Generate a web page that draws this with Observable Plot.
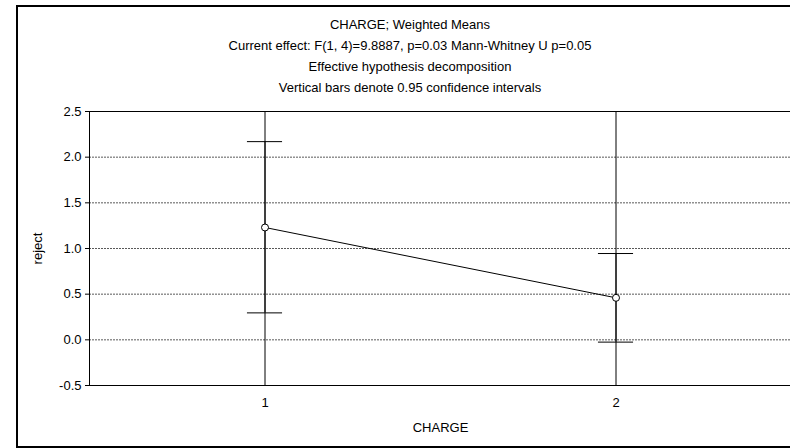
<!DOCTYPE html>
<html><head><meta charset="utf-8">
<script src="https://cdn.jsdelivr.net/npm/d3@7"></script>
<script src="https://cdn.jsdelivr.net/npm/@observablehq/plot@0.6"></script>
<style>
html,body{margin:0;padding:0;background:#fff;overflow:hidden;}
#wrap{position:relative;width:790px;height:448px;overflow:hidden;font-family:"Liberation Sans",Arial,sans-serif;background:#fff;}
#frame{position:absolute;left:16px;top:5px;width:900px;height:443px;border:2px solid #000;box-sizing:border-box;}
.t{position:absolute;left:16px;width:788px;text-align:center;font-size:13px;line-height:15px;color:#000;white-space:nowrap;}
#chart{position:absolute;left:0;top:0;width:840px;height:448px;}
#chart svg{max-width:none !important;}
</style></head><body>
<div id="wrap"><div id="frame"></div><div id="titles"></div><div id="chart"></div></div>
<script>
const categories = [1, 2];
const means = [1.23, 0.46];
const lower = [0.295, -0.025];
const upper = [2.17, 0.945];
const yTicks = [-0.5, 0, 0.5, 1, 1.5, 2, 2.5];
const titleLines = [
  "CHARGE; Weighted Means",
  "Current effect: F(1, 4)=9.8887, p=0.03 Mann-Whitney U p=0.05",
  "Effective hypothesis decomposition",
  "Vertical bars denote 0.95 confidence intervals"
];
const titleTops = [17, 38, 59, 80];
const xLabel = "CHARGE";
const yLabel = "reject";

const titles = document.getElementById("titles");
titleLines.forEach((s, i) => {
  const d = document.createElement("div");
  d.className = "t";
  d.style.top = titleTops[i] + "px";
  d.textContent = s;
  titles.appendChild(d);
});

const data = categories.map((c, i) => ({x: c, mean: means[i], lo: lower[i], hi: upper[i]}));
const capHalf = 0.05;

const plot = Plot.plot({
  width: 840, height: 448,
  marginTop: 111, marginBottom: 63, marginLeft: 89, marginRight: 49,
  style: {fontFamily: "'Liberation Sans', Arial, sans-serif", fontSize: "13px", background: "transparent", color: "#000", maxWidth: "none"},
  x: {domain: [0.5, 2.5]},
  y: {domain: [-0.5, 2.5]},
  marks: [
    Plot.ruleY(yTicks.slice(1, -1), {stroke: "#000", strokeOpacity: 0.65, strokeDasharray: "2,1"}),
    Plot.ruleY([yTicks[0], yTicks[yTicks.length - 1]], {stroke: "#000"}),
    Plot.ruleX([0.5], {stroke: "#000"}),
    Plot.ruleX(categories, {stroke: "#000"}),
    Plot.ruleX(data, {x: "x", y1: "lo", y2: "hi", stroke: "#000"}),
    Plot.ruleY(data, {y: "lo", x1: d => d.x - capHalf, x2: d => d.x + capHalf, stroke: "#000"}),
    Plot.ruleY(data, {y: "hi", x1: d => d.x - capHalf, x2: d => d.x + capHalf, stroke: "#000"}),
    Plot.line(data, {x: "x", y: "mean", stroke: "#000", strokeWidth: 1}),
    Plot.dot(data, {x: "x", y: "mean", r: 3.5, fill: "#fff", stroke: "#000", strokeWidth: 1}),
    Plot.axisY({ticks: yTicks, tickFormat: d => d.toFixed(1), tickSize: 4, tickPadding: 4,
      label: yLabel, labelAnchor: "center", labelOffset: 57, labelArrow: "none"}),
    Plot.axisX({ticks: categories, tickFormat: d => String(d), tickSize: 0, tickPadding: 12,
      label: xLabel, labelAnchor: "center", labelOffset: 46, labelArrow: "none"})
  ]
});
document.getElementById("chart").appendChild(plot);
</script>
</body></html>
